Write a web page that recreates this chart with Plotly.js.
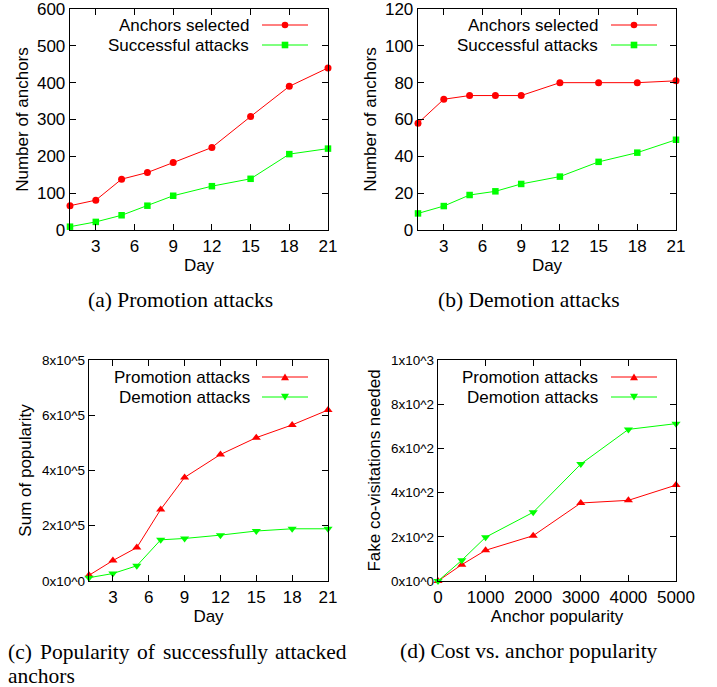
<!DOCTYPE html>
<html>
<head>
<meta charset="utf-8">
<script src="https://cdn.plot.ly/plotly-3.0.1.min.js"></script>
<style>html,body{margin:0;padding:0;background:#fff;}#chart{width:717px;height:687px;}</style>
</head>
<body>
<div id="chart"></div>
<script>
// ---- data ----
var days = [1, 3, 5, 7, 9, 12, 15, 18, 21];
var dayTicks = [3, 6, 9, 12, 15, 18, 21];
var promoSelected = [66, 81, 138, 156, 183, 224, 308, 390, 440];
var promoSuccess = [9, 22, 40, 66, 93, 119, 139, 206, 221];
var demoSelected = [58, 71, 73, 73, 73, 80, 80, 80, 81];
var demoSuccess = [9, 13, 19, 21, 25, 29, 37, 42, 49];
var popPromotion = [20600, 74000, 121000, 259000, 375000, 458000, 519000, 565000, 619000];
var popDemotion = [12000, 27000, 55000, 149000, 154000, 166000, 181000, 189000, 189000];
var popTickVals = [0, 200000, 400000, 600000, 800000];
var popTickText = ["0x10^0", "2x10^5", "4x10^5", "6x10^5", "8x10^5"];
var anchorPopularity = [0, 500, 1000, 2000, 3000, 4000, 5000];
var costPromotion = [0, 74, 139, 205, 353, 365, 434];
var costDemotion = [0, 94, 198, 311, 529, 686, 712];
var costTickVals = [0, 200, 400, 600, 800, 1000];
var costTickText = ["0x10^0", "2x10^2", "4x10^2", "6x10^2", "8x10^2", "1x10^3"];
var legendA = ["Anchors selected", "Successful attacks"];
var legendC = ["Promotion attacks", "Demotion attacks"];
var captions = ["(a) Promotion attacks", "(b) Demotion attacks",
                "(c) Popularity of successfully attacked", "anchors",
                "(d) Cost vs. anchor popularity"];

// ---- helpers ----
var W = 717, H = 687;
function X(px) { return px / W; }
function Y(py) { return 1 - py / H; }
var RED = "#ff0000", GREEN = "#00ff00";
var SANS = "Liberation Sans, Arial, sans-serif";
var SERIF = "Liberation Serif, Times New Roman, serif";

function trace(x, y, color, symbol, size, xa, ya) {
  return {x: x, y: y, type: "scatter", mode: "lines+markers", xaxis: xa, yaxis: ya,
    line: {color: color, width: 1}, marker: {color: color, symbol: symbol, size: size},
    cliponaxis: false, showlegend: false, hoverinfo: "skip"};
}

var data = [
  trace(days, promoSelected, RED, "circle", 7, "x", "y"),
  trace(days, promoSuccess, GREEN, "square", 6.5, "x", "y"),
  trace(days, demoSelected, RED, "circle", 7, "x2", "y2"),
  trace(days, demoSuccess, GREEN, "square", 6.5, "x2", "y2"),
  trace(days, popPromotion, RED, "triangle-up", 8, "x3", "y3"),
  trace(days, popDemotion, GREEN, "triangle-down", 8, "x3", "y3"),
  trace(anchorPopularity, costPromotion, RED, "triangle-up", 8, "x4", "y4"),
  trace(anchorPopularity, costDemotion, GREEN, "triangle-down", 8, "x4", "y4")
];

function ax(extra) {
  var base = {showline: true, linecolor: "#000", linewidth: 1.3, mirror: "ticks",
    ticks: "inside", ticklen: 6, tickwidth: 1, tickcolor: "#000",
    showgrid: false, zeroline: false, fixedrange: true, ticklabeloverflow: "allow",
    tickfont: {family: SANS, size: 17, color: "#000"}};
  for (var k in extra) base[k] = extra[k];
  return base;
}
var tfont = {family: SANS, size: 17, color: "#000"};

var layout = {
  width: W, height: H, margin: {l: 0, r: 0, t: 0, b: 0},
  paper_bgcolor: "#fff", plot_bgcolor: "#fff", showlegend: false,
  xaxis: ax({domain: [X(70), X(328)], anchor: "y", range: [1, 21], tickvals: dayTicks,
    title: {text: "Day", font: tfont, standoff: 2}}),
  yaxis: ax({domain: [Y(230), Y(9)], anchor: "x", range: [0, 600], tick0: 0, dtick: 100,
    title: {text: "Number of anchors", font: tfont, standoff: 4}}),
  xaxis2: ax({domain: [X(418), X(676)], anchor: "y2", range: [1, 21], tickvals: dayTicks,
    title: {text: "Day", font: tfont, standoff: 2}}),
  yaxis2: ax({domain: [Y(230), Y(9)], anchor: "x2", range: [0, 120], tick0: 0, dtick: 20,
    title: {text: "Number of anchors", font: tfont, standoff: 4}}),
  xaxis3: ax({domain: [X(89), X(328)], anchor: "y3", range: [1, 21], tickvals: dayTicks,
    title: {text: "Day", font: tfont, standoff: 2}}),
  yaxis3: ax({domain: [Y(581), Y(360)], anchor: "x3", range: [0, 800000],
    tickvals: popTickVals, ticktext: popTickText,
    tickfont: {family: SANS, size: 13.5, color: "#000"},
    title: {text: "Sum of popularity", font: tfont, standoff: 6}}),
  xaxis4: ax({domain: [X(438), X(676)], anchor: "y4", range: [0, 5000], tick0: 0, dtick: 1000,
    title: {text: "Anchor popularity", font: tfont, standoff: 2}}),
  yaxis4: ax({domain: [Y(581), Y(360)], anchor: "x4", range: [0, 1000],
    tickvals: costTickVals, ticktext: costTickText,
    tickfont: {family: SANS, size: 13.5, color: "#000"},
    title: {text: "Fake co-visitations needed", font: tfont, standoff: 6}}),
  annotations: [],
  shapes: []
};

// manual gnuplot-style keys
function key(textRight, lineX0, lineX1, yc, label, color, sym) {
  layout.annotations.push({xref: "paper", yref: "paper", x: X(textRight), y: Y(yc),
    xanchor: "right", yanchor: "middle", text: label, showarrow: false, font: tfont});
  layout.shapes.push({type: "line", xref: "paper", yref: "paper", x0: X(lineX0), x1: X(lineX1),
    y0: Y(yc), y1: Y(yc), line: {color: color, width: 1}});
  var mx = (lineX0 + lineX1) / 2, r = 3.3, t = 4;
  if (sym === "circle") {
    layout.shapes.push({type: "circle", xref: "paper", yref: "paper", x0: X(mx - r), x1: X(mx + r),
      y0: Y(yc + r), y1: Y(yc - r), fillcolor: color, line: {width: 0}});
  } else if (sym === "square") {
    layout.shapes.push({type: "rect", xref: "paper", yref: "paper", x0: X(mx - r), x1: X(mx + r),
      y0: Y(yc + r), y1: Y(yc - r), fillcolor: color, line: {width: 0}});
  } else {
    var d = sym === "up" ? -1 : 1;
    var p = "M" + X(mx - t) + "," + Y(yc - d * t * 0.8) + " L" + X(mx + t) + "," + Y(yc - d * t * 0.8) +
            " L" + X(mx) + "," + Y(yc + d * t * 0.9) + " Z";
    layout.shapes.push({type: "path", xref: "paper", yref: "paper", path: p, fillcolor: color, line: {width: 0}});
  }
}
key(251, 262, 308, 25, legendA[0], RED, "circle");
key(251, 262, 308, 45, legendA[1], GREEN, "square");
key(600, 611, 657, 25, legendA[0], RED, "circle");
key(600, 611, 657, 45, legendA[1], GREEN, "square");
key(252, 262, 308, 377, legendC[0], RED, "up");
key(252, 262, 308, 397, legendC[1], GREEN, "down");
key(600, 611, 657, 377, legendC[0], RED, "up");
key(600, 611, 657, 397, legendC[1], GREEN, "down");

// captions
var cfont = {family: SERIF, size: 21.5, color: "#000"};
function cap(text, x, y, anchor) {
  layout.annotations.push({xref: "paper", yref: "paper", x: X(x), y: Y(y), xanchor: anchor,
    yanchor: "middle", text: text, showarrow: false, font: cfont});
}
cap(captions[0], 180.5, 300, "center");
cap(captions[1], 529, 300, "center");
// justified first line of caption (c): spread words across the column
var cWords = captions[2].split(" ");
var cWordLeft = [6, 37.6, 134.9, 160.5, 273.3];
cWords.forEach(function (w, i) { cap(w, cWordLeft[i], 652, "left"); });
cap(captions[3], 6, 676, "left");
cap(captions[4], 528.5, 651, "center");

Plotly.newPlot("chart", data, layout, {staticPlot: true, displayModeBar: false});
</script>
</body>
</html>
